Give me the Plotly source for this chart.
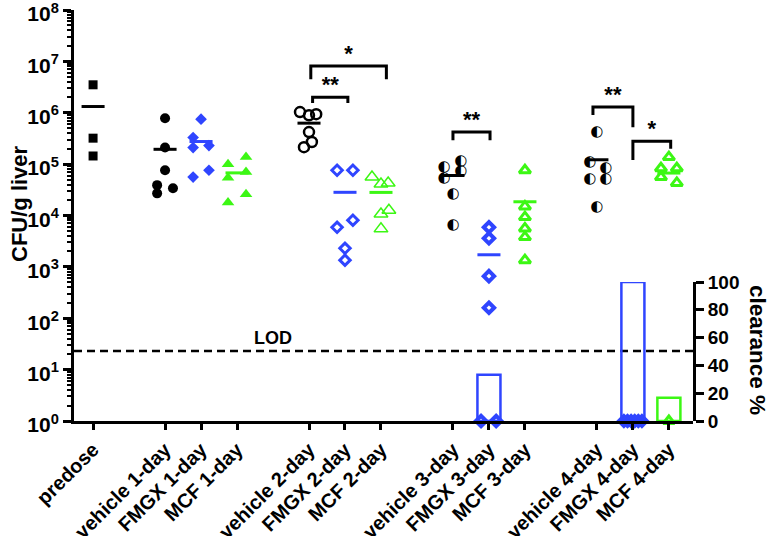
import numpy as np
import plotly.graph_objects as go

# ---------------- data ----------------
groups = ["predose",
          "vehicle 1-day", "FMGX 1-day", "MCF 1-day",
          "vehicle 2-day", "FMGX 2-day", "MCF 2-day",
          "vehicle 3-day", "FMGX 3-day", "MCF 3-day",
          "vehicle 4-day", "FMGX 4-day", "MCF 4-day"]
slot = [0, 2, 3, 4, 6, 7, 8, 10, 11, 12, 14, 15, 16]

predose = [3.5e6, 3.2e5, 1.44e5]
vehicle_1d = [7.8e5, 2.1e5, 7.6e4, 3.9e4, 3.4e4, 2.7e4]
fmgx_1d = [7.5e5, 3.3e5, 2.1e5, 2.3e5, 7.6e4, 5.6e4]
mcf_1d = [1.37e5, 1.0e5, 7.0e4, 5.4e4, 2.6e4, 1.8e4]
vehicle_2d = [1.03e6, 8.9e5, 9.4e5, 4.2e5, 2.7e5, 2.14e5]
fmgx_2d = [7.6e4, 7.6e4, 8.1e3, 5.9e3, 2.3e3, 1.35e3]
mcf_2d = [5.6e4, 4.1e4, 4.3e4, 1.27e4, 1.07e4, 5.5e3]
vehicle_3d = [8.7e4, 1.14e5, 7.3e4, 5.4e4, 2.6e4, 6.5e3]
fmgx_3d = [5.9e3, 3.6e3, 6.6e2, 1.6e2, 1, 1]
mcf_3d = [7.6e4, 1.5e4, 9.3e3, 5.6e3, 3.8e3, 1.35e3]
vehicle_4d = [4.2e5, 1.1e5, 8.3e4, 5.1e4, 5.1e4, 1.45e4]
fmgx_4d = [1, 1, 1, 1, 1, 1]
mcf_4d = [1.37e5, 8.3e4, 8.3e4, 5.6e4, 4.3e4, 1]

values = [predose, vehicle_1d, fmgx_1d, mcf_1d, vehicle_2d, fmgx_2d, mcf_2d,
          vehicle_3d, fmgx_3d, mcf_3d, vehicle_4d, fmgx_4d, mcf_4d]

clearance_groups = ["FMGX 3-day", "FMGX 4-day", "MCF 4-day"]
clearance_pct = [33.3, 100.0, 16.7]

LOD = 23

# significance: (group a, group b, label, bracket top, left leg end, right leg end)
comparisons = [
    ("vehicle 2-day", "FMGX 2-day", "**", 2.0e6, 1.55e6, 1.55e6),
    ("vehicle 2-day", "MCF 2-day", "*", 8.1e6, 4.5e6, 4.5e6),
    ("vehicle 3-day", "FMGX 3-day", "**", 4.2e5, 2.9e5, 2.9e5),
    ("vehicle 4-day", "FMGX 4-day", "**", 1.29e6, 9.0e5, 5.2e5),
    ("FMGX 4-day", "MCF 4-day", "*", 2.8e5, 1.2e5, 2.0e5),
]

# ---------------- styling ----------------
BLUE = "#2f45ff"
GREEN = "#3cf714"
BLACK = "#000000"
FONT = "Liberation Sans"

jitter = [
    [0, 0, 0],
    [0, 0, 0, -0.22, 0.22, -0.22],
    [0, -0.22, -0.22, 0.22, 0.22, -0.22],
    [0.25, -0.25, 0.25, -0.25, 0.25, -0.25],
    [-0.25, 0, 0.2, 0, 0.08, -0.14],
    [-0.22, 0.22, 0.22, -0.22, 0, 0],
    [-0.25, 0, 0.2, 0.22, 0, 0],
    [-0.25, 0.22, 0.22, -0.25, 0, 0],
    [0, 0, 0, 0, -0.22, 0.2],
    [0, 0, 0, 0, 0, 0],
    [0, -0.2, 0.25, -0.2, 0.25, 0],
    [-0.25, -0.15, -0.05, 0.05, 0.15, 0.25],
    [0, -0.22, 0.22, -0.22, 0.22, 0],
]
bracket_ends = [(0.1, 0.08), (0.05, 0.15), (0.0, 0.03), (-0.11, 0.0), (0.0, 0.05)]

styles = [
    dict(symbol="square", size=9, color=BLACK, line=dict(width=0)),
    dict(symbol="circle", size=10, color=BLACK, line=dict(width=0)),
    dict(symbol="diamond", size=9, color=BLUE, line=dict(width=0)),
    dict(symbol="triangle-up", size=11, color=GREEN, line=dict(width=0)),
    dict(symbol="circle-open", size=10, color=BLACK, line=dict(width=2.5, color=BLACK)),
    dict(symbol="diamond-open", size=8, color=BLUE, line=dict(width=3, color=BLUE)),
    dict(symbol="triangle-up-open", size=12, color=GREEN, line=dict(width=1.5, color=GREEN)),
    "half",
    dict(symbol="diamond-open", size=8, color=BLUE, line=dict(width=4, color=BLUE)),
    dict(symbol="triangle-up-open", size=10, color=GREEN, line=dict(width=3, color=GREEN)),
    "half",
    dict(symbol="diamond-open", size=8, color=BLUE, line=dict(width=3.5, color=BLUE)),
    dict(symbol="triangle-up-open", size=10, color=GREEN, line=dict(width=3, color=GREEN)),
]
mean_colors = [BLACK, BLACK, BLUE, GREEN, BLACK, BLUE, GREEN,
               BLACK, BLUE, GREEN, BLACK, BLUE, GREEN]

XR = [-0.53, 16.67]
pos = dict(zip(groups, slot))

fig = go.Figure()

# clearance bars (secondary axis)
fig.add_trace(go.Bar(
    x=[pos[g] for g in clearance_groups], y=clearance_pct,
    width=0.64, yaxis="y2",
    marker=dict(color="rgba(255,255,255,0)",
                line=dict(color=[BLUE, BLUE, GREEN], width=2.5)),
    showlegend=False, hoverinfo="skip"))

# LOD dashed line
fig.add_trace(go.Scatter(x=XR, y=[LOD, LOD], mode="lines",
                         line=dict(color=BLACK, width=2.5, dash="8px,5px"),
                         showlegend=False, hoverinfo="skip"))

# points and means
for g, s, vals, jit, st, mc in zip(groups, slot, values, jitter, styles, mean_colors):
    xs = [s + j for j in jit]
    if st == "half":
        fig.add_trace(go.Scatter(x=xs, y=vals, mode="text", text=["◐"] * len(vals),
                                 textfont=dict(family="DejaVu Sans", size=15, color=BLACK),
                                 textposition="middle center", cliponaxis=False,
                                 showlegend=False))
    else:
        fig.add_trace(go.Scatter(x=xs, y=vals, mode="markers", marker=st,
                                 cliponaxis=False, showlegend=False))
    m = float(np.mean(vals))
    if m > LOD:
        fig.add_trace(go.Scatter(x=[s - 0.32, s + 0.32], y=[m, m], mode="lines",
                                 line=dict(color=mc, width=3), showlegend=False,
                                 hoverinfo="skip"))

# significance brackets
for (a, b, lab, top, la, lb), (da, db) in zip(comparisons, bracket_ends):
    xa, xb = pos[a] + da, pos[b] + db
    fig.add_trace(go.Scatter(x=[xa, xa, xb, xb], y=[la, top, top, lb], mode="lines",
                             line=dict(color=BLACK, width=3), showlegend=False,
                             hoverinfo="skip", cliponaxis=False))
    fig.add_trace(go.Scatter(x=[(xa + xb) / 2], y=[top], mode="text", text=[lab],
                             textposition="top center",
                             textfont=dict(family=FONT, size=22, color=BLACK, weight="bold"),
                             showlegend=False, cliponaxis=False))

minor_vals = [m * 10 ** d for d in range(0, 8) for m in range(2, 10)]

fig.update_layout(
    width=780, height=536,
    margin=dict(l=74, r=87, t=10, b=115, autoexpand=False),
    plot_bgcolor="rgba(0,0,0,0)", paper_bgcolor="white",
    font=dict(family=FONT, size=18, color=BLACK, weight="bold"),
    showlegend=False,
    xaxis=dict(range=XR, tickmode="array", tickvals=slot, ticktext=groups,
               tickangle=-45, ticks="outside", ticklen=6, tickwidth=2.5,
               tickcolor=BLACK, showline=True, linewidth=3, linecolor=BLACK,
               showgrid=False, zeroline=False, automargin=False,
               ticklabeloverflow="allow",
               tickfont=dict(family=FONT, size=20, weight="bold")),
    yaxis=dict(type="log", range=[0, 8], tickmode="array",
               tickvals=[10 ** k for k in range(9)],
               ticktext=["10<sup>%d</sup>" % k for k in range(9)],
               ticks="outside", ticklen=8, tickwidth=2.5, tickcolor=BLACK,
               minor=dict(tickmode="array", tickvals=minor_vals, ticks="outside",
                          ticklen=4, tickwidth=1.5, tickcolor=BLACK),
               showline=True, linewidth=3, linecolor=BLACK, showgrid=False,
               zeroline=False, automargin=False, ticklabeloverflow="allow",
               ticklabelshift=4,
               tickfont=dict(family=FONT, size=21, weight="bold")),
    yaxis2=dict(domain=[0, 139 / 411], range=[0, 100], anchor="x", side="right",
                tickmode="array", tickvals=[0, 20, 40, 60, 80, 100],
                ticks="outside", ticklen=8, tickwidth=2.5, tickcolor=BLACK,
                showline=True, linewidth=3, linecolor=BLACK, showgrid=False,
                zeroline=False, automargin=False, ticklabeloverflow="allow",
                tickfont=dict(family=FONT, size=19, weight="bold")),
    annotations=[
        dict(text="CFU/g liver", xref="paper", yref="paper", x=0, y=0.528,
             xanchor="center", yanchor="middle", xshift=-54, textangle=-90,
             showarrow=False, font=dict(family=FONT, size=22, weight="bold")),
        dict(text="clearance %", xref="paper", yref="paper", x=1, y=0.173,
             xanchor="center", yanchor="middle", xshift=64, textangle=90,
             showarrow=False, font=dict(family=FONT, size=22.5, weight="bold")),
        dict(text="LOD", xref="x", yref="y", x=5.0, y=float(np.log10(LOD)),
             xanchor="center", yanchor="bottom", yshift=1, showarrow=False,
             font=dict(family=FONT, size=18, weight="bold")),
    ],
)

fig.write_html("out.html", config={"displayModeBar": False},
               post_script="document.body.style.margin='0';document.body.style.padding='0';")
